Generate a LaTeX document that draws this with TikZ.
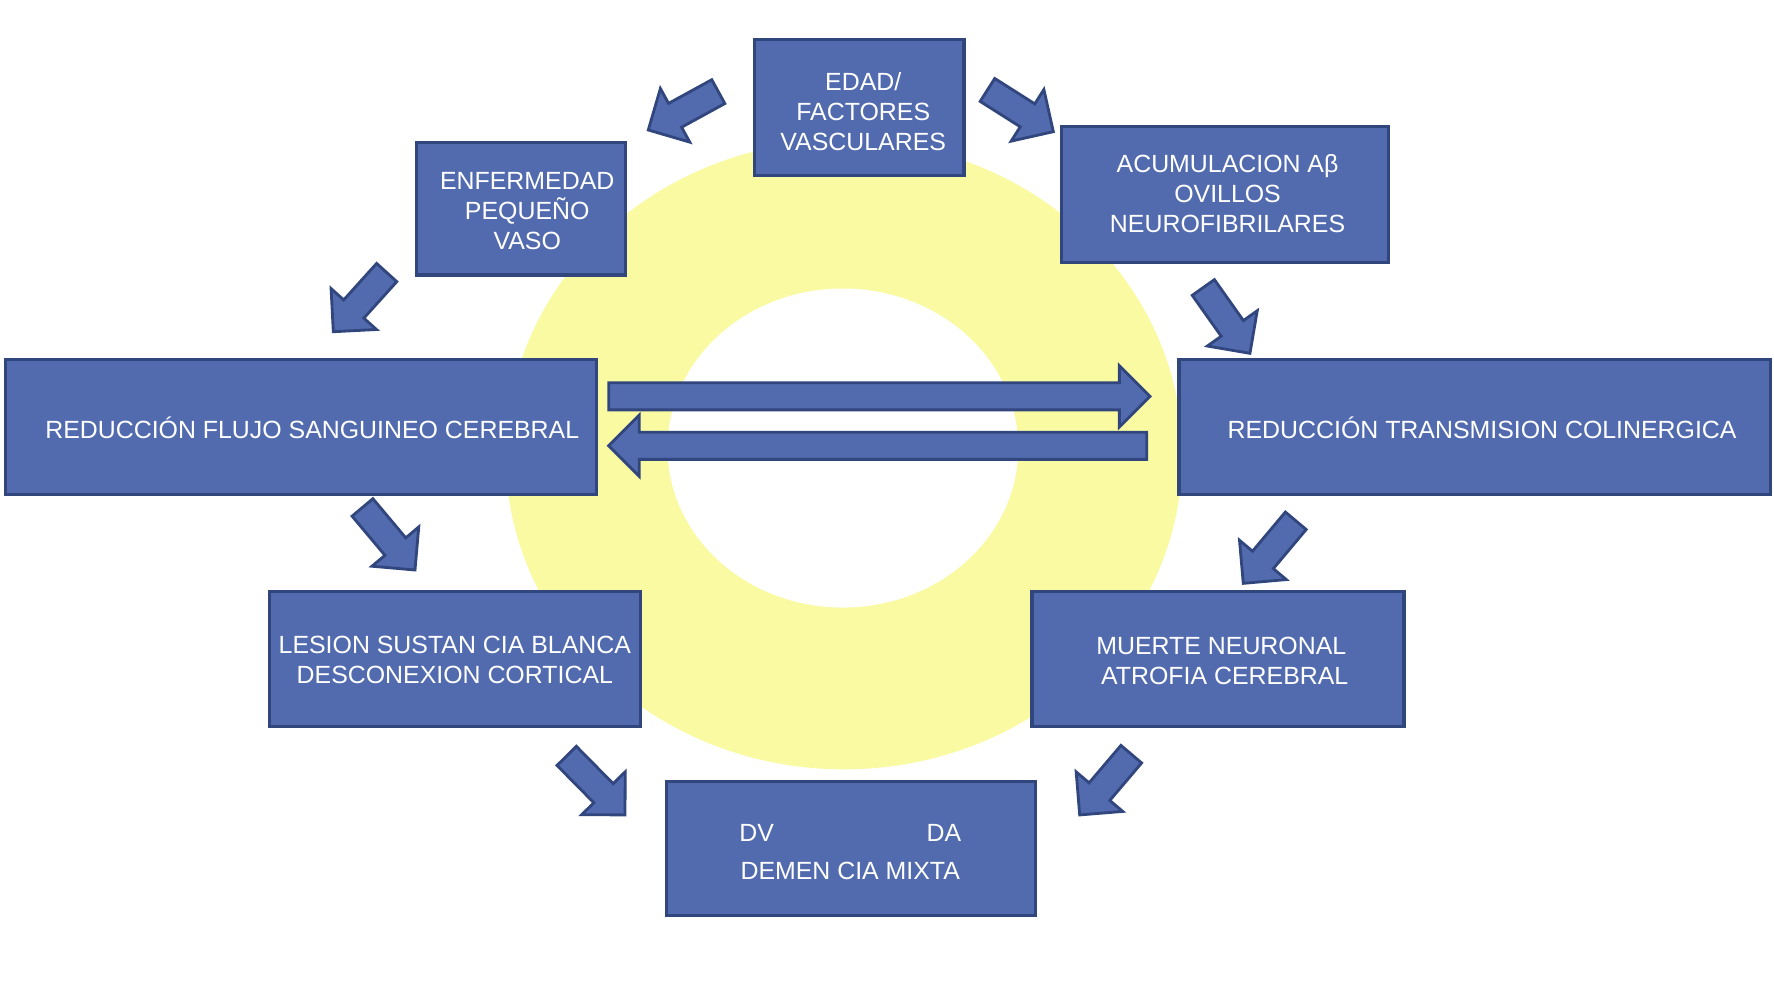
\documentclass[tikz,border=0pt]{standalone}
\usepackage{fontspec}
\setmainfont{Liberation Sans}
\usetikzlibrary{calc}
\definecolor{boxfill}{RGB}{82,107,175}
\definecolor{boxline}{RGB}{50,70,126}
\definecolor{ringyellow}{RGB}{250,250,162}
\tikzset{
  box/.style={draw=boxline, fill=boxfill, line width=3pt, inner sep=0pt},
  txt/.style={text=white, font=\fontsize{22}{26.5}\selectfont, align=center, inner sep=0pt},
  blk/.style={draw=boxline, fill=boxfill, line width=2.5pt, line join=miter}
}
\newcommand{\blockarr}[2]{%
  \path ($(#2)!27pt!(#1)$) coordinate (hb);
  \draw[blk] ($(#1)!12pt!90:(#2)$) -- ($(hb)!12pt!90:(#2)$) -- ($(hb)!27pt!90:(#2)$)
    -- (#2) -- ($(hb)!27pt!-90:(#2)$) -- ($(hb)!12pt!-90:(#2)$)
    -- ($(#1)!12pt!-90:(#2)$) -- cycle;
}
\begin{document}
\begin{tikzpicture}[x=1pt,y=-1pt]
\useasboundingbox (0,0) rectangle (1568,879.4);
\fill[white] (0,0) rectangle (1568,879.4);
% ring
\fill[ringyellow] (746,402) ellipse [x radius=299pt, y radius=278pt];
\fill[white] (745,396) ellipse [x radius=155pt, y radius=141pt];
% boxes
\node[box, minimum width=185pt, minimum height=120pt] (edad) at (759.5,95) {};
\node[box, minimum width=185pt, minimum height=117pt] (enf) at (460.5,184.5) {};
\node[box, minimum width=289pt, minimum height=120pt] (acum) at (1082.5,172) {};
\node[box, minimum width=522pt, minimum height=119pt] (flujo) at (266,377.5) {};
\node[box, minimum width=523pt, minimum height=119pt] (trans) at (1303.5,377.5) {};
\node[box, minimum width=328pt, minimum height=119pt] (lesion) at (402,582.5) {};
\node[box, minimum width=329pt, minimum height=119pt] (muerte) at (1076.5,582.5) {};
\node[box, minimum width=326pt, minimum height=118pt] (dv) at (752,750) {};
% texts
\node[txt] (edadt) at ($(edad)+(3.5,3.5)$) {EDAD/\\FACTORES\\VASCULARES};
\node[txt] (enft) at ($(enf)+(5.5,2)$) {ENFERMEDAD\\PEQUEÑO\\VASO};
\node[txt] (acumt) at ($(acum)+(2.5,-0.5)$) {ACUMULACION Aβ\\OVILLOS\\NEUROFIBRILARES};
\node[txt] (flujot) at ($(flujo)+(10,0.5)$) {REDUCCIÓN FLUJO SANGUINEO CEREBRAL};
\node[txt] (transt) at ($(trans)+(6.5,1)$) {REDUCCIÓN TRANSMISION COLINERGICA};
\node[txt] (lesiont) at ($(lesion)+(0,1)$) {LESION SUSTAN CIA BLANCA\\DESCONEXION CORTICAL};
\node[txt] (muertet) at ($(muerte)+(3,1.5)$) {MUERTE NEURONAL\\\hspace*{6pt}ATROFIA CEREBRAL};
\node[txt] (dvt) at ($(dv)+(-0.5,3)$) {\makebox[196pt]{DV\hfill DA}\\[6.5pt]DEMEN CIA MIXTA};
% arrow end points
\coordinate (a1t) at (634.9,81);    \coordinate (a1h) at (573,114.9);
\coordinate (a2t) at (872.8,79.5);  \coordinate (a2h) at (931,116.4);
\coordinate (a3t) at (341.8,240.9); \coordinate (a3h) at (294.6,293.2);
\coordinate (a4t) at (1063.6,254.1);\coordinate (a4h) at (1104.8,312.3);
\coordinate (a5t) at (320.4,448.5); \coordinate (a5h) at (366.8,503.8);
\coordinate (a6t) at (1145.3,460.3);\coordinate (a6h) at (1098.9,515.6);
\coordinate (a7t) at (500.9,668.1); \coordinate (a7h) at (552.4,720.3);
\coordinate (a8t) at (999.9,666.6); \coordinate (a8h) at (954.3,720.3);
\coordinate (rt) at (538,350.3);    \coordinate (rh) at (1016.4,350.3);
\coordinate (lt) at (1013.5,394);   \coordinate (lh) at (538,394);
\blockarr{a1t}{a1h}
\blockarr{a2t}{a2h}
\blockarr{a3t}{a3h}
\blockarr{a4t}{a4h}
\blockarr{a5t}{a5h}
\blockarr{a6t}{a6h}
\blockarr{a7t}{a7h}
\blockarr{a8t}{a8h}
\blockarr{rt}{rh}
\blockarr{lt}{lh}
\end{tikzpicture}
\end{document}
